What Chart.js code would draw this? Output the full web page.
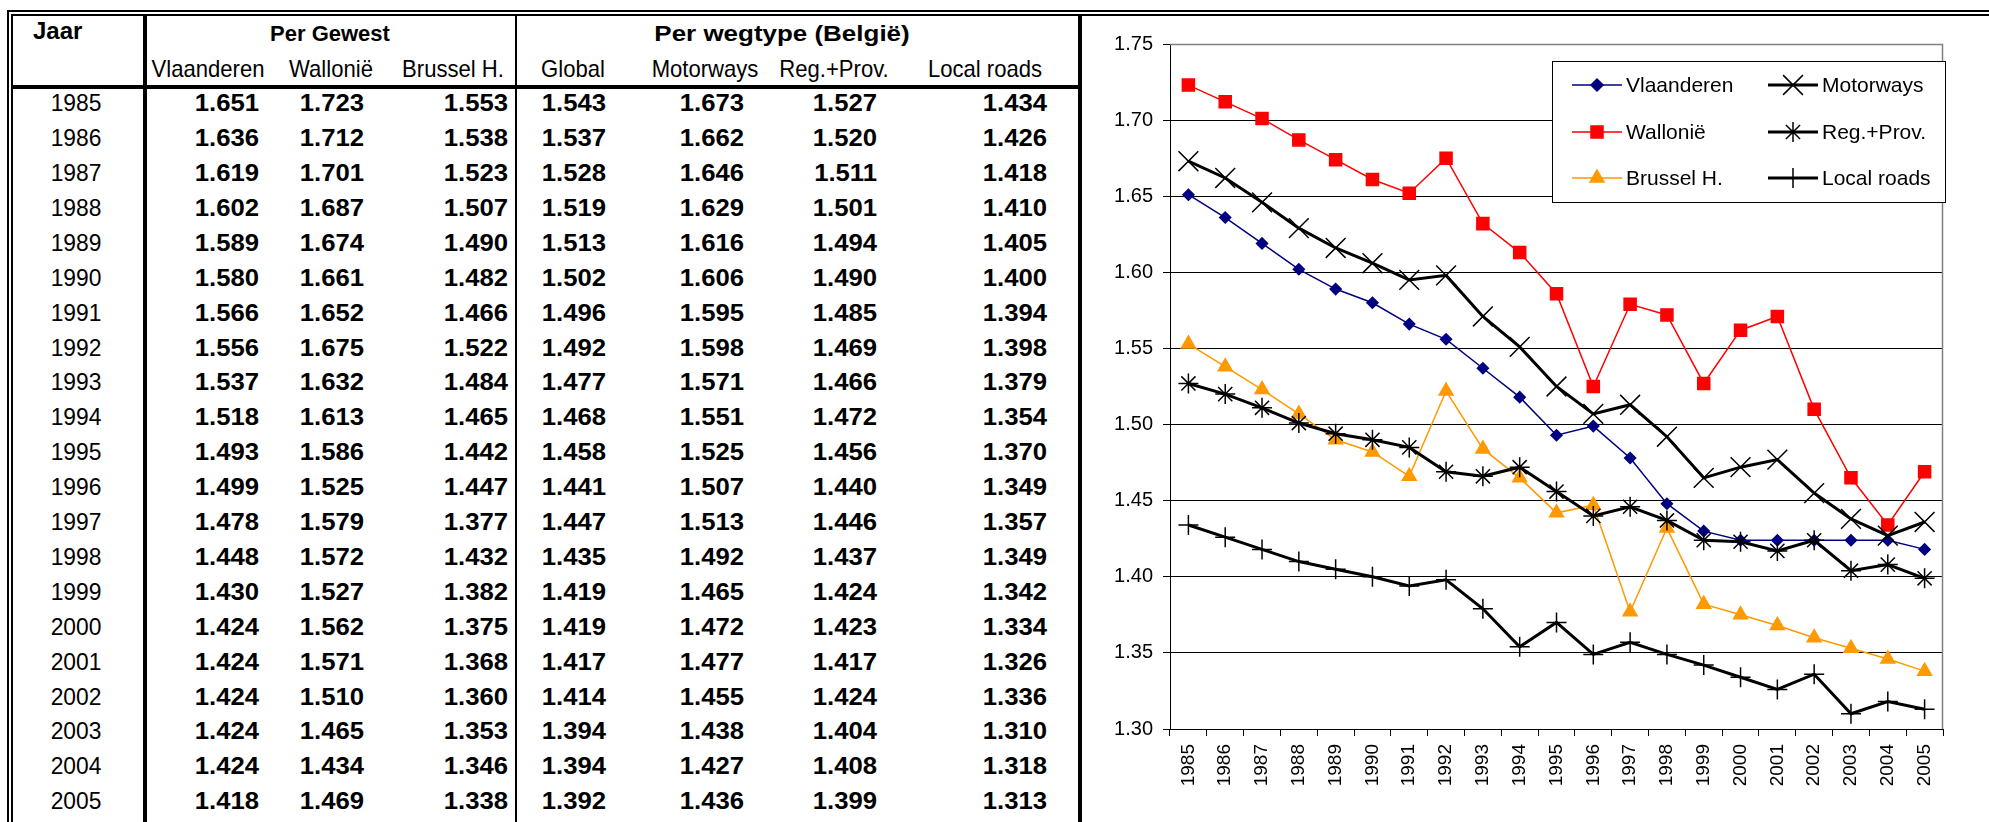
<!DOCTYPE html>
<html lang="nl">
<head>
<meta charset="UTF-8">
<title>Gemiddelde bezetting per voertuig</title>
<script src="https://cdn.jsdelivr.net/npm/chart.js@4.4.1/dist/chart.umd.min.js"></script>
<style>
  html, body { margin: 0; padding: 0; background: #fff; }
  body {
    width: 1989px; height: 822px; position: relative; overflow: hidden;
    font-family: "Liberation Sans", Arial, sans-serif; color: #000;
  }
  .ln { position: absolute; background: #000; }
  .t { position: absolute; white-space: nowrap; line-height: 1; }
  .b { font-weight: bold; }
  #chartBox { position: absolute; left: 1082px; top: 16px; width: 907px; height: 806px; }
</style>
</head>
<body>

<div id="chartBox"><canvas id="occChart"></canvas></div>

<script>
// data (table + chart)
const years = ['1985','1986','1987','1988','1989','1990','1991','1992','1993','1994','1995',
               '1996','1997','1998','1999','2000','2001','2002','2003','2004','2005'];
const vlaanderen = [1.651,1.636,1.619,1.602,1.589,1.580,1.566,1.556,1.537,1.518,1.493,
                    1.499,1.478,1.448,1.430,1.424,1.424,1.424,1.424,1.424,1.418];
const wallonie   = [1.723,1.712,1.701,1.687,1.674,1.661,1.652,1.675,1.632,1.613,1.586,
                    1.525,1.579,1.572,1.527,1.562,1.571,1.510,1.465,1.434,1.469];
const brussel    = [1.553,1.538,1.523,1.507,1.490,1.482,1.466,1.522,1.484,1.465,1.442,
                    1.447,1.377,1.432,1.382,1.375,1.368,1.360,1.353,1.346,1.338];
const global     = [1.543,1.537,1.528,1.519,1.513,1.502,1.496,1.492,1.477,1.468,1.458,
                    1.441,1.447,1.435,1.419,1.419,1.417,1.414,1.394,1.394,1.392];
const motorways  = [1.673,1.662,1.646,1.629,1.616,1.606,1.595,1.598,1.571,1.551,1.525,
                    1.507,1.513,1.492,1.465,1.472,1.477,1.455,1.438,1.427,1.436];
const regProv    = [1.527,1.520,1.511,1.501,1.494,1.490,1.485,1.469,1.466,1.472,1.456,
                    1.440,1.446,1.437,1.424,1.423,1.417,1.424,1.404,1.408,1.399];
const localRoads = [1.434,1.426,1.418,1.410,1.405,1.400,1.394,1.398,1.379,1.354,1.370,
                    1.349,1.357,1.349,1.342,1.334,1.326,1.336,1.310,1.318,1.313];
const yTicks = { min: 1.30, max: 1.75, step: 0.05 };

// ---- table ----
const body = document.body;
function line(x, y, w, h) {
  const d = document.createElement('div');
  d.className = 'ln';
  d.style.cssText = `left:${x}px;top:${y}px;width:${w}px;height:${h}px`;
  body.appendChild(d);
}
// align 'l' | 'c' | 'r'; sx squeezes/stretches the text horizontally
function text(str, x, cy, fs, bold, align, sx) {
  const d = document.createElement('div');
  d.className = 't' + (bold ? ' b' : '');
  d.textContent = str;
  d.style.fontSize = fs + 'px';
  d.style.left = x + 'px';
  d.style.top = (cy - fs * 0.49) + 'px';
  const shift = align === 'c' ? '-50%' : align === 'r' ? '-100%' : '0';
  d.style.transformOrigin = align === 'c' ? '50% 50%' : align === 'r' ? '100% 50%' : '0 50%';
  d.style.transform = `translateX(${shift}) scaleX(${sx || 1})`;
  body.appendChild(d);
}

const cols = [
  { vals: vlaanderen, head: 'Vlaanderen',  right: 259,  hx: 208 },
  { vals: wallonie,   head: 'Wallonië',    right: 364,  hx: 331 },
  { vals: brussel,    head: 'Brussel H.',  right: 508,  hx: 453 },
  { vals: global,     head: 'Global',      right: 606,  hx: 573 },
  { vals: motorways,  head: 'Motorways',   right: 744,  hx: 705 },
  { vals: regProv,    head: 'Reg.+Prov.',  right: 877,  hx: 834 },
  { vals: localRoads, head: 'Local roads', right: 1047, hx: 985 }
];
const rowTop = 103, rowH = 34.9;

text('Jaar', 33, 31, 24, true, 'l');
text('Per Gewest', 330, 34, 22, true, 'c');
text('Per wegtype (België)', 782, 34, 22, true, 'c', 1.18);
cols.forEach(c => text(c.head, c.hx, 69, 24, false, 'c', 0.92));

years.forEach((yr, i) => {
  const cy = rowTop + i * rowH;
  text(yr, 76, cy, 24, false, 'c', 0.95);
  cols.forEach(c => text(c.vals[i].toFixed(3), c.right, cy, 24, true, 'r', 1.07));
});

// borders
line(7, 10, 1982, 2);
line(11, 14, 1978, 2);
line(7, 10, 2, 812);
line(11, 14, 2, 808);
line(143, 16, 3.5, 806);
line(13, 85, 1066, 3.5);
line(515, 16, 2, 806);
line(1078, 16, 3.5, 806);

// ---- chart ----
const series = [
  { label: 'Vlaanderen',  data: vlaanderen, color: '#000080', width: 1.5, style: 'rectRot',  r: 5.5, lr: 6 },
  { label: 'Wallonië',    data: wallonie,   color: '#FF0000', width: 1.5, style: 'rect',     r: 8.5, lr: 8.5 },
  { label: 'Brussel H.',  data: brussel,    color: '#FF9900', width: 1.5, style: 'triangle', r: 8,   lr: 8 },
  { label: 'Motorways',   data: motorways,  color: '#000000', width: 3,   style: 'crossRot', r: 14,  lr: 14 },
  { label: 'Reg.+Prov.',  data: regProv,    color: '#000000', width: 3,   style: 'star',     r: 10,  lr: 10 },
  { label: 'Local roads', data: localRoads, color: '#000000', width: 3,   style: 'cross',    r: 10,  lr: 10 }
];

const frameAndLegend = {
  id: 'frameAndLegend',
  beforeDatasetsDraw(chart) {
    const { ctx, chartArea: a } = chart;
    ctx.save();
    ctx.strokeStyle = '#808080';
    ctx.lineWidth = 1.5;
    ctx.beginPath();
    ctx.moveTo(a.left, a.top + 0.5);
    ctx.lineTo(a.right - 0.5, a.top + 0.5);
    ctx.lineTo(a.right - 0.5, a.bottom);
    ctx.stroke();
    ctx.restore();
  },
  afterDatasetsDraw(chart) {
    const ctx = chart.ctx;
    ctx.save();
    ctx.fillStyle = '#fff';
    ctx.fillRect(470, 45, 394, 142);
    ctx.strokeStyle = '#000';
    ctx.lineWidth = 1;
    ctx.strokeRect(470.5, 45.5, 393, 141);
    ctx.font = '21px "Liberation Sans", Arial, sans-serif';
    ctx.textBaseline = 'middle';
    series.forEach((s, i) => {
      const x0 = i < 3 ? 490 : 686;
      const y = [69, 116, 162][i % 3];
      ctx.strokeStyle = s.color;
      ctx.fillStyle = s.color;
      ctx.lineWidth = s.width;
      ctx.beginPath();
      ctx.moveTo(x0, y);
      ctx.lineTo(x0 + 50, y);
      ctx.stroke();
      ctx.lineWidth = 1.5;
      Chart.helpers.drawPoint(ctx, { pointStyle: s.style, radius: s.lr, rotation: 0, borderWidth: 1.5 }, x0 + 25, y);
      ctx.fillStyle = '#000';
      ctx.fillText(s.label, x0 + 54, y + 1);
    });
    ctx.restore();
  }
};

new Chart(document.getElementById('occChart'), {
  type: 'line',
  data: {
    labels: years,
    datasets: series.map((s, i) => ({
      label: s.label,
      data: s.data,
      borderColor: s.color,
      backgroundColor: s.color,
      borderWidth: s.width,
      pointStyle: s.style,
      pointRadius: s.r,
      pointBorderWidth: 1.5,
      pointBackgroundColor: s.color,
      pointBorderColor: s.color,
      tension: 0,
      fill: false,
      order: 6 - i
    }))
  },
  options: {
    responsive: true,
    maintainAspectRatio: false,
    animation: false,
    events: [],
    layout: { padding: { top: 28, right: 46, left: 0, bottom: 0 } },
    plugins: { legend: { display: false }, tooltip: { enabled: false } },
    scales: {
      x: {
        offset: true,
        grid: { offset: true, drawOnChartArea: false, drawTicks: true, tickLength: 7, color: '#000' },
        border: { display: true, color: '#000', width: 1 },
        ticks: {
          autoSkip: false, minRotation: 90, maxRotation: 90, padding: 8,
          color: '#000', font: { family: '"Liberation Sans", Arial, sans-serif', size: 19 }
        },
        afterFit: s => { s.height = 93; }
      },
      y: {
        min: yTicks.min, max: yTicks.max,
        grid: { color: '#000', lineWidth: 1, drawTicks: true, tickLength: 7 },
        border: { display: true, color: '#000', width: 1 },
        ticks: {
          stepSize: yTicks.step, padding: 10, color: '#000',
          font: { family: '"Liberation Sans", Arial, sans-serif', size: 20 },
          callback: v => Number(v).toFixed(2)
        },
        afterFit: s => { s.width = 88; }
      }
    }
  },
  plugins: [frameAndLegend]
});
</script>
</body>
</html>
